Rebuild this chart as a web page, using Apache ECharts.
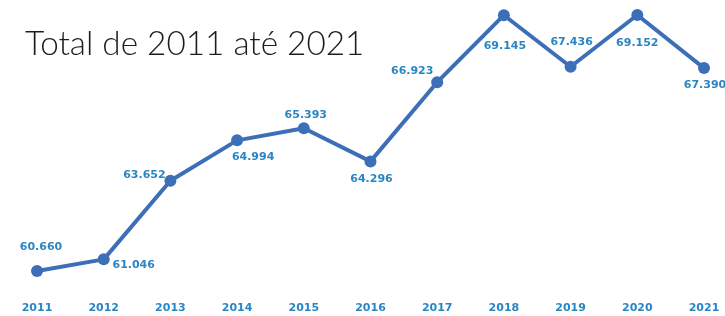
<!DOCTYPE html>
<html><head><meta charset="utf-8">
<script src="https://cdn.jsdelivr.net/npm/echarts@6/dist/echarts.min.js"></script>
<style>html,body{margin:0;padding:0;background:#fff}#c{width:725px;height:316px}</style>
</head><body><div id="c"></div>
<script>
const years = ['2011','2012','2013','2014','2015','2016','2017','2018','2019','2020','2021'];
const totals = [60660, 61046, 63652, 64994, 65393, 64296, 66923, 69145, 67436, 69152, 67390];
const titleText = 'Total de 2011 até 2021';
// label offsets (styling) relative to each point
const labelOffsets = [[4,-24],[30,6],[-26,-6],[16,17],[2,-13],[1,18],[-25,-11],[1,31],[1,-25],[0,28],[1,17]];

const fmt = v => String(v).replace(/\B(?=(\d{3})+(?!\d))/g, '.');
const chart = echarts.init(document.getElementById('c'));
chart.setOption({
  animation: false,
  title: { text: titleText, left: 20, top: 23, textStyle: { fontFamily: 'Lato', fontWeight: 300, fontSize: 33.3, color: '#1c1c1c' } },
  grid: { left: 37, right: 21, top: 15, bottom: 45 },
  xAxis: { type: 'category', data: years, boundaryGap: false,
    axisLine: { show: false }, axisTick: { show: false },
    axisLabel: { margin: 32, color: '#2a86c3', fontWeight: 'bold', fontSize: 11, fontFamily: 'DejaVu Sans' } },
  yAxis: { type: 'value', min: 60660, max: 69152, show: false, splitLine: { show: false } },
  series: [{
    type: 'line', symbol: 'circle', symbolSize: 12,
    lineStyle: { color: '#3d6fb9', width: 4 }, itemStyle: { color: '#3d6fb9' },
    data: totals.map((v, i) => ({ value: v, label: { offset: labelOffsets[i] } })),
    label: { show: true, position: 'inside', align: 'center', verticalAlign: 'middle',
      formatter: p => fmt(p.value), color: '#2a86c3', fontWeight: 'bold', fontSize: 11, fontFamily: 'DejaVu Sans' }
  }]
});
</script></body></html>
